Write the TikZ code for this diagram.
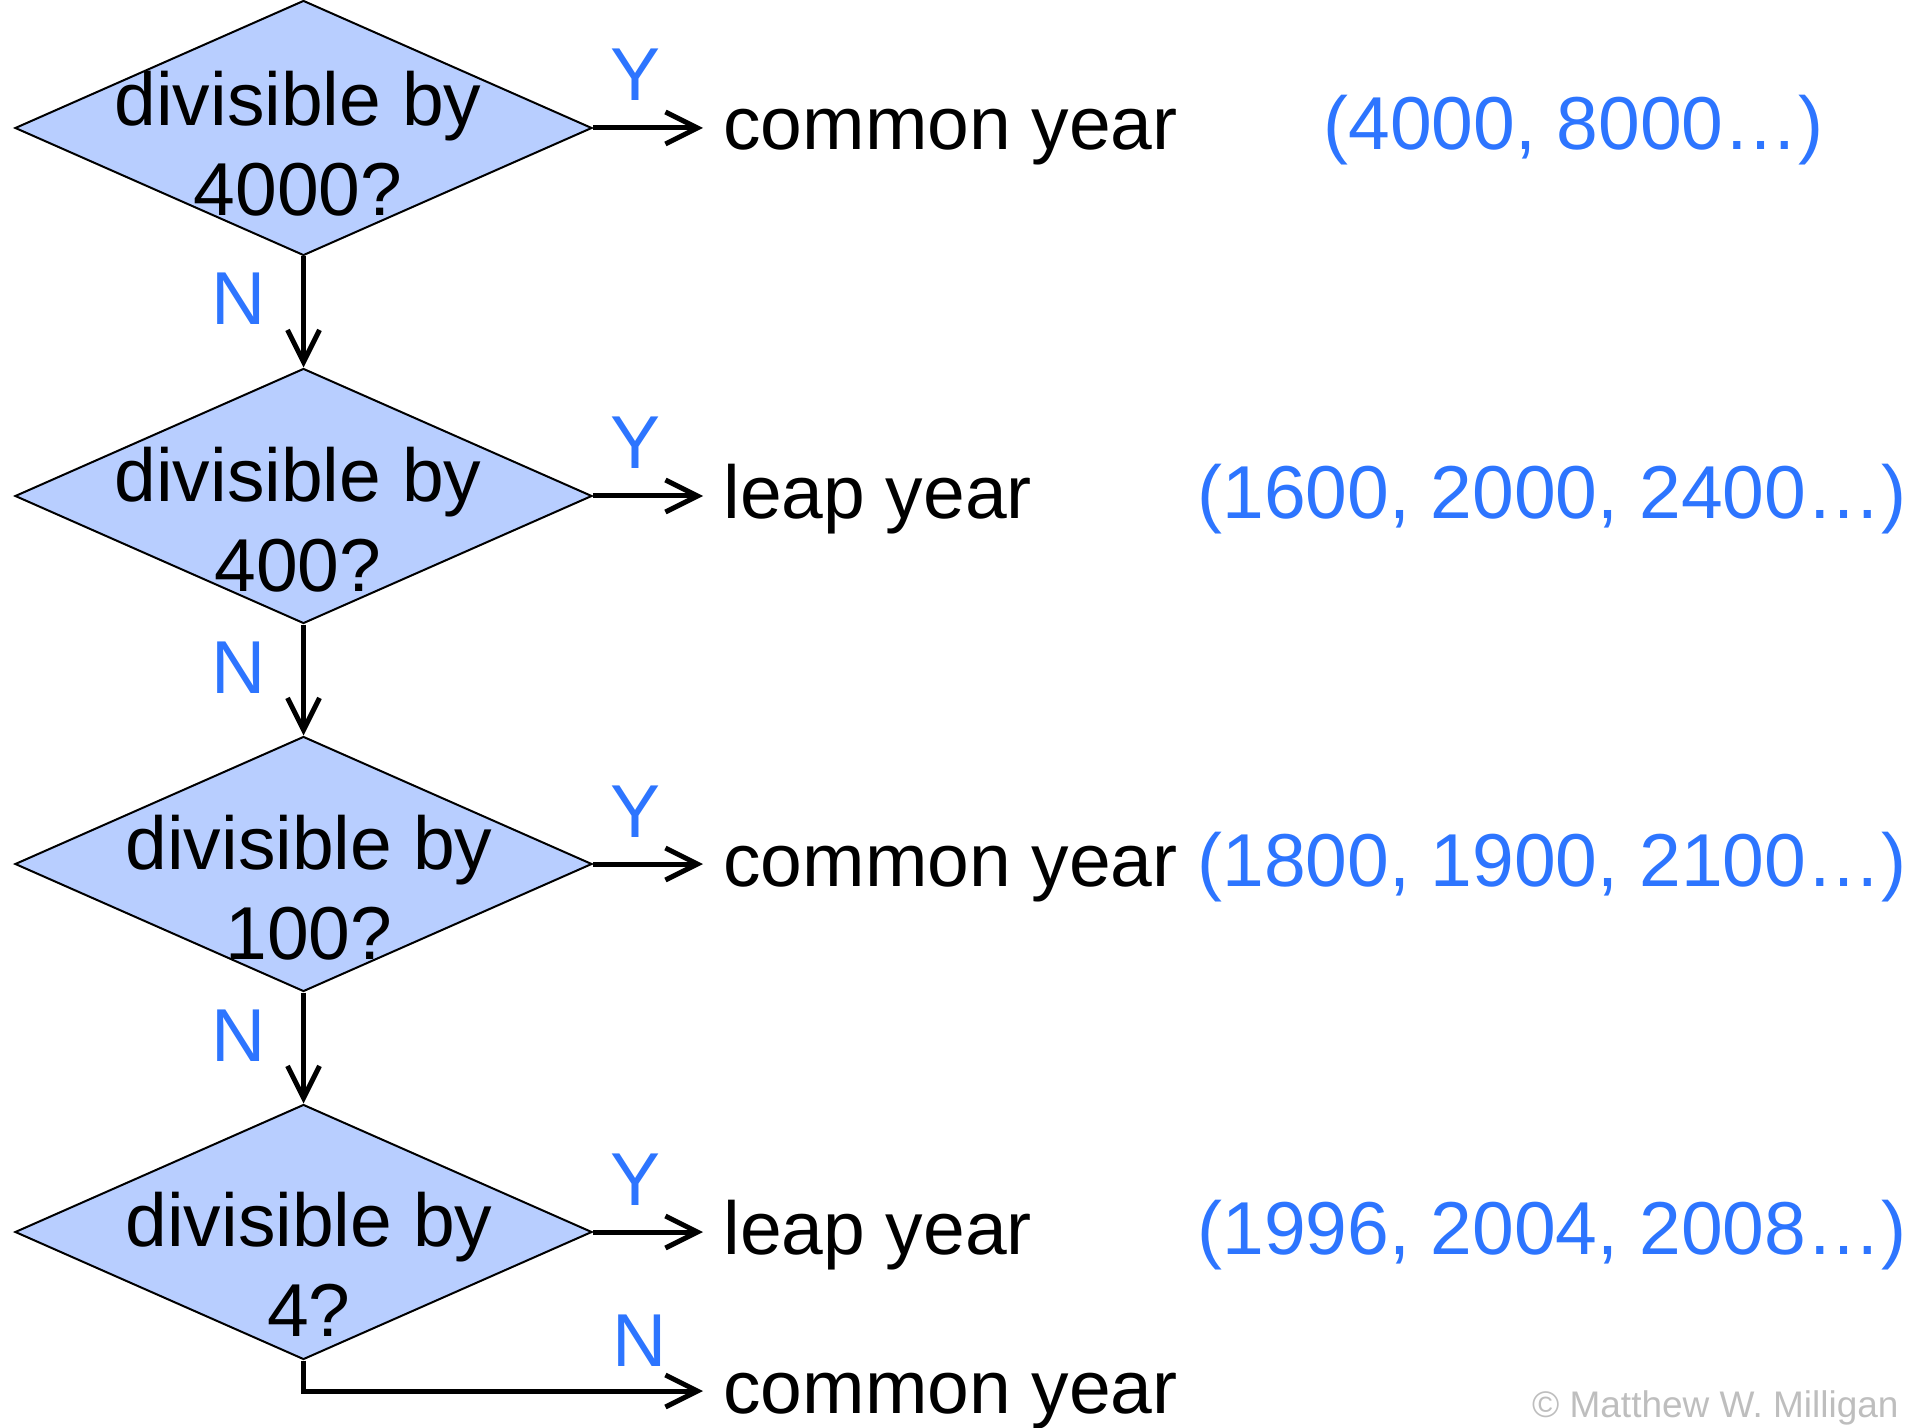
\documentclass[tikz,border=0pt]{standalone}
\usepackage{fontspec}
\setmainfont{Liberation Sans}
\usetikzlibrary{arrows.meta,shapes.geometric}
\definecolor{dfill}{RGB}{184,206,255}
\definecolor{lblue}{RGB}{45,117,255}
\definecolor{cgray}{RGB}{190,190,190}
\begin{document}
\begin{tikzpicture}[x=0.5pt,y=-0.5pt,
 dia/.style={draw=black, line width=1pt, fill=dfill, shape=diamond, minimum width=288.5pt, minimum height=127.5pt, inner sep=0pt},
 qtext/.style={align=center, font=\fontsize{37.5}{45}\selectfont, inner sep=0pt},
 res/.style={font=\fontsize{37.5}{44.5}\selectfont, inner xsep=10pt, inner ysep=0pt, anchor=base west},
 ex/.style={font=\fontsize{37.5}{44.5}\selectfont, text=lblue, inner sep=0pt, anchor=base west},
 yn/.style={font=\fontsize{37.5}{44.5}\selectfont, text=lblue, inner sep=0pt, anchor=base},
 arr/.style={line width=2.5pt, -{Straight Barb[length=16pt,width=16pt]}}
]
\useasboundingbox (0,0) rectangle (1917,1428);
% decisions
\node[dia] (d1) at (303.5,128) {};
\node[dia] (d2) at (303.5,496) {};
\node[dia] (d3) at (303.5,864) {};
\node[dia] (d4) at (303.5,1232) {};
\node[qtext] (q1) at (298,143.5) {divisible by\\4000?};
\node[qtext] (q2) at (298,519.5) {divisible by\\400?};
\node[qtext] (q3) at (309,887.5) {divisible by\\100?};
\node[qtext] (q4) at (309,1264.5) {divisible by\\4?};
% results
\node[res] (r1) at (703,150) {common year};
\node[res] (r2) at (703,518) {leap year};
\node[res] (r3) at (703,886) {common year};
\node[res] (r4) at (703,1254) {leap year};
\node[res] (r5) at (703,1413) {common year};
% examples
\node[ex] (e1) at (1323,150) {(4000, 8000…)};
\node[ex] (e2) at (1197,518) {(1600, 2000, 2400…)};
\node[ex] (e3) at (1197,886) {(1800, 1900, 2100…)};
\node[ex] (e4) at (1197,1254) {(1996, 2004, 2008…)};
% labels
\node[yn] (y1) at (636,101) {Y};
\node[yn] (y2) at (636,469) {Y};
\node[yn] (y3) at (636,837) {Y};
\node[yn] (y4) at (636,1205) {Y};
\node[yn] (n1) at (239,325) {N};
\node[yn] (n2) at (239,693) {N};
\node[yn] (n3) at (239,1061) {N};
\node[yn] (n4) at (640,1366) {N};
% connectors
\draw[arr] (d1.east) -- (d1.east -| r1.west);
\draw[arr] (d2.east) -- (d2.east -| r2.west);
\draw[arr] (d3.east) -- (d3.east -| r3.west);
\draw[arr] (d4.east) -- (d4.east -| r4.west);
\draw[arr] (d1.south) -- (d2.north);
\draw[arr] (d2.south) -- (d3.north);
\draw[arr] (d3.south) -- (d4.north);
\coordinate (c5) at (703,1391);
\draw[arr] (d4.south) |- (c5);
% credit
\node[anchor=base east, inner sep=0pt, font=\fontsize{18.5}{22}\selectfont, text=cgray] (cp) at (1899,1417) {© Matthew W. Milligan};
\end{tikzpicture}
\end{document}
